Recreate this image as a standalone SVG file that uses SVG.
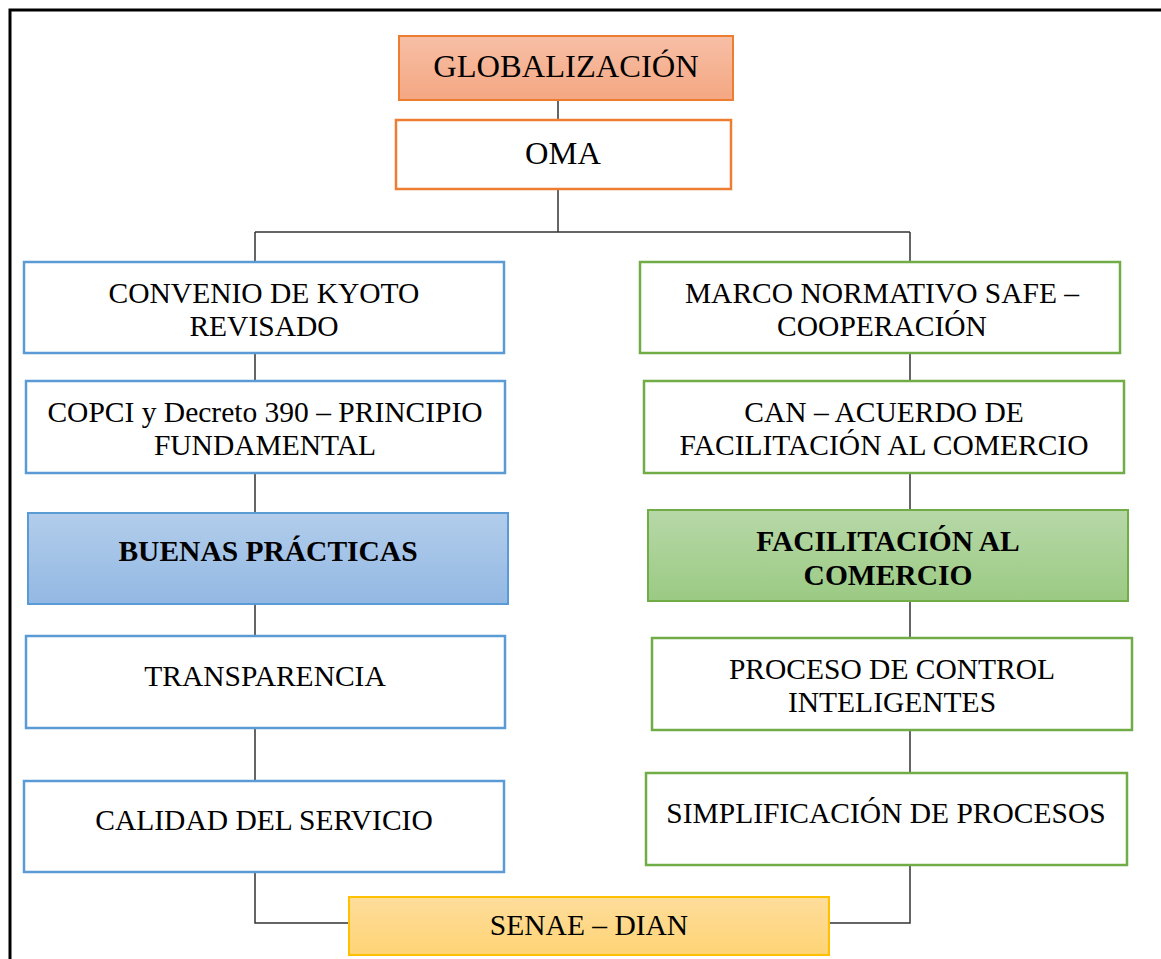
<svg xmlns="http://www.w3.org/2000/svg" width="1161" height="959" viewBox="0 0 1161 959">
<style>
text{font-family:"Liberation Serif","Times New Roman",serif;font-size:29.5px;fill:#000;text-anchor:middle}
.big{font-size:32.5px}
.b{font-weight:bold;font-size:29.5px}
.blue{fill:#fff;stroke:#5b9bd5;stroke-width:2.5}
.green{fill:#fff;stroke:#70ad47;stroke-width:2.5}
.orange{fill:#fff;stroke:#ed7d31;stroke-width:2.5}
.ln{fill:none;stroke:#333;stroke-width:1.5}
</style>
<defs>
<linearGradient id="go" x1="0" y1="0" x2="0" y2="1"><stop offset="0" stop-color="#f7bfa6"/><stop offset="1" stop-color="#f4a782"/></linearGradient>
<linearGradient id="gb" x1="0" y1="0" x2="0" y2="1"><stop offset="0" stop-color="#b2cdeb"/><stop offset="1" stop-color="#93b8e3"/></linearGradient>
<linearGradient id="gg" x1="0" y1="0" x2="0" y2="1"><stop offset="0" stop-color="#b7d8a8"/><stop offset="1" stop-color="#9bca83"/></linearGradient>
<linearGradient id="gy" x1="0" y1="0" x2="0" y2="1"><stop offset="0" stop-color="#fedd9c"/><stop offset="1" stop-color="#ffd475"/></linearGradient>
</defs>
<rect width="1161" height="959" fill="#fff"/>
<path d="M10 959V10H1161" fill="none" stroke="#000" stroke-width="3"/>
<g id="connectors">
<path class="ln" d="M558 100V120M558 189V232M255 232H910M255 232V262M910 232V262"/>
<path class="ln" d="M255 353V381M255 473V513M255 604V636M255 728V781M255 872V923H349"/>
<path class="ln" d="M910 353V381M910 473V510M910 601V638M910 730V773M910 865V923H829"/>
</g>
<g id="n-globalizacion"><rect x="399" y="36" width="334" height="64" fill="url(#go)" stroke="#ed7d31" stroke-width="2"/><text class="big" x="566" y="77">GLOBALIZACIÓN</text></g>
<g id="n-oma"><rect class="orange" x="396" y="120" width="335" height="69"/><text class="big" x="563" y="164">OMA</text></g>
<g id="n-kyoto"><rect class="blue" x="24" y="262" width="480" height="91"/><text x="264" y="303">CONVENIO DE KYOTO</text><text x="264" y="336">REVISADO</text></g>
<g id="n-copci"><rect class="blue" x="26" y="381" width="479" height="92"/><text x="265" y="422">COPCI y Decreto 390 – PRINCIPIO</text><text x="265" y="455">FUNDAMENTAL</text></g>
<g id="n-buenas"><rect x="28" y="513" width="480" height="91" fill="url(#gb)" stroke="#5b9bd5" stroke-width="2"/><text class="b" x="268" y="561">BUENAS PRÁCTICAS</text></g>
<g id="n-transparencia"><rect class="blue" x="26" y="636" width="479" height="92"/><text x="265" y="686">TRANSPARENCIA</text></g>
<g id="n-calidad"><rect class="blue" x="24" y="781" width="480" height="91"/><text x="264" y="830">CALIDAD DEL SERVICIO</text></g>
<g id="n-marco"><rect class="green" x="640" y="262" width="480" height="91"/><text x="882" y="303">MARCO NORMATIVO SAFE –</text><text x="882" y="336">COOPERACIÓN</text></g>
<g id="n-can"><rect class="green" x="644" y="381" width="480" height="92"/><text x="884" y="422">CAN – ACUERDO DE</text><text x="884" y="455">FACILITACIÓN AL COMERCIO</text></g>
<g id="n-facilitacion"><rect x="648" y="510" width="480" height="91" fill="url(#gg)" stroke="#70ad47" stroke-width="2"/><text class="b" x="888" y="551">FACILITACIÓN AL</text><text class="b" x="888" y="585">COMERCIO</text></g>
<g id="n-proceso"><rect class="green" x="652" y="638" width="480" height="92"/><text x="892" y="679">PROCESO DE CONTROL</text><text x="892" y="712">INTELIGENTES</text></g>
<g id="n-simplificacion"><rect class="green" x="646" y="773" width="481" height="92"/><text x="886" y="823">SIMPLIFICACIÓN DE PROCESOS</text></g>
<g id="n-senae"><rect x="349" y="897" width="480" height="58" fill="url(#gy)" stroke="#ffc000" stroke-width="2"/><text x="589" y="935">SENAE – DIAN</text></g>
</svg>
